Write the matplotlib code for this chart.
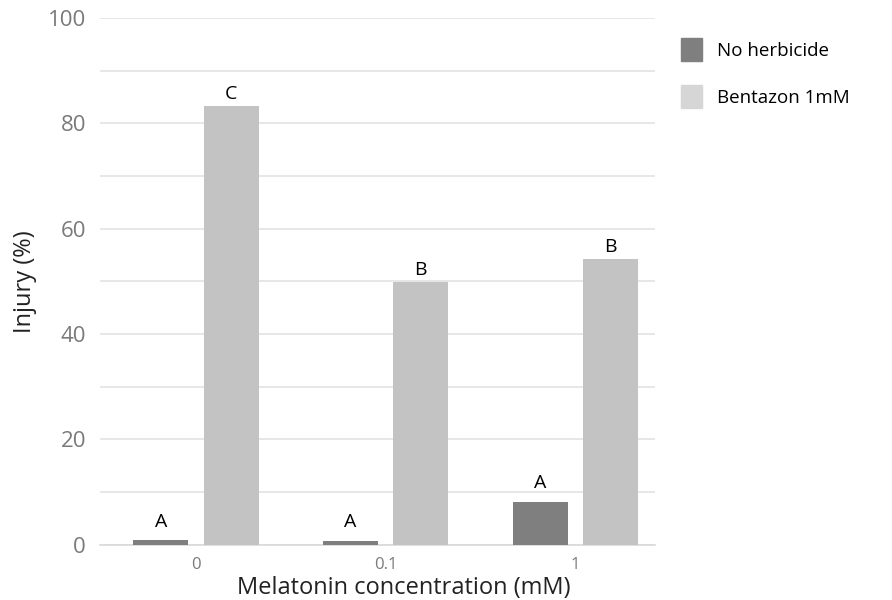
import matplotlib

matplotlib.use("Agg")
import matplotlib.pyplot as plt
import numpy as np
from matplotlib.patches import Patch

plt.rcParams["font.family"] = ["Open Sans", "DejaVu Sans"]

categories = ["0", "0.1", "1"]
no_herbicide = [0.9, 0.8, 8.2]
bentazon = [83.3, 49.9, 54.3]
letters_no = ["A", "A", "A"]
letters_bent = ["C", "B", "B"]
series_names = ["No herbicide", "Bentazon 1mM"]

DARK, LIGHT, LEGEND_LIGHT = "#7f7f7f", "#c3c3c3", "#d6d6d6"

fig = plt.figure(figsize=(8.92, 6.0), dpi=100)
ax = fig.add_axes([0.112, 0.092, 0.622, 0.878])

x = np.arange(len(categories))
w, off = 0.29, 0.185
ax.bar(x - off, no_herbicide, w, color=DARK, zorder=3)
ax.bar(x + off, bentazon, w, color=LIGHT, zorder=3)
for xi, v, t in zip(x, no_herbicide, letters_no):
    ax.text(xi - off, v + 1.8, t, ha="center", va="bottom", fontsize=14)
for xi, v, t in zip(x, bentazon, letters_bent):
    ax.text(xi + off, v + 0.6, t, ha="center", va="bottom", fontsize=14)

ax.set_xlim(-0.507, 2.42)
ax.set_ylim(0, 100)
ax.set_yticks(np.arange(0, 101, 20))
ax.set_yticks(np.arange(0, 101, 10), minor=True)
ax.grid(axis="y", which="both", color="#e3e3e3", linewidth=1.2, zorder=0)
ax.set_xticks(x)
ax.set_xticklabels(categories, fontsize=12, color="#7a7a7a")
ax.tick_params(axis="y", which="both", length=0, labelsize=16, labelcolor="#7a7a7a", pad=10)
ax.tick_params(axis="x", length=0, pad=9)
for s in ["top", "right", "left"]:
    ax.spines[s].set_visible(False)
ax.spines["bottom"].set_color("#d9d9d9")
ax.spines["bottom"].set_linewidth(1.2)

ax.set_ylabel("Injury (%)", fontsize=17, color="#222222", labelpad=8)
ax.set_xlabel("Melatonin concentration (mM)", fontsize=17, color="#222222", va="center")
ax.xaxis.set_label_coords(0.548, -0.082)

handles = [Patch(color=DARK), Patch(color=LEGEND_LIGHT)]
fig.legend(handles, series_names, loc="upper left", bbox_to_anchor=(0.745, 0.965),
           frameon=False, fontsize=13.5, handlelength=1.1, handleheight=1.5,
           labelspacing=1.3, handletextpad=0.8)

fig.savefig("out.png", dpi=100)
